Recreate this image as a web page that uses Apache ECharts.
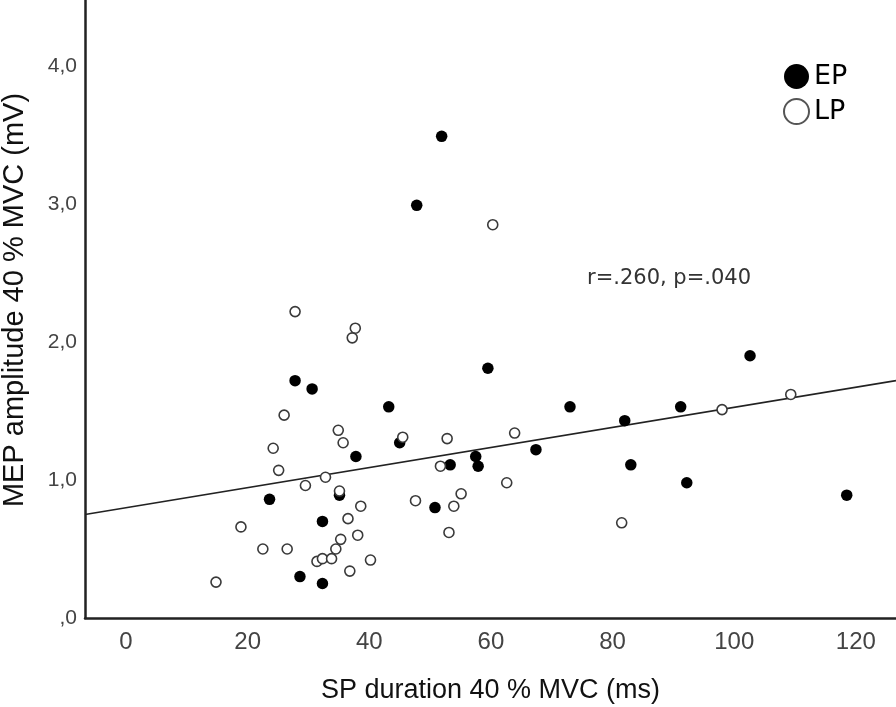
<!DOCTYPE html>
<html>
<head>
<meta charset="utf-8">
<script src="https://cdn.jsdelivr.net/npm/echarts@6/dist/echarts.min.js"></script>
<style>html,body{margin:0;padding:0;background:#fff}#c{width:896px;height:707px}</style>
</head>
<body>
<div id="c"></div>
<script>
// EP (filled) points: [SP duration (ms), MEP amplitude (mV)]
var epPoints = [
  [51.9,3.49],[47.8,2.99],[59.5,1.81],[102.6,1.90],[27.8,1.72],[30.6,1.66],
  [43.2,1.53],[73.0,1.53],[91.2,1.53],[82.0,1.43],[37.8,1.17],[45.0,1.27],
  [57.5,1.17],[57.9,1.10],[53.3,1.11],[67.4,1.22],[83.0,1.11],[92.2,0.98],
  [118.5,0.89],[23.6,0.86],[35.1,0.89],[50.8,0.80],[32.3,0.70],[28.6,0.30],
  [32.3,0.25]
];
// LP (open) points
var lpPoints = [
  [60.3,2.85],[27.8,2.22],[37.7,2.10],[37.2,2.03],[26.0,1.47],[34.9,1.36],
  [35.7,1.27],[45.5,1.31],[52.8,1.30],[63.9,1.34],[24.2,1.23],[25.1,1.07],
  [51.7,1.10],[62.6,0.98],[32.8,1.02],[29.5,0.96],[35.1,0.92],[55.1,0.90],
  [47.6,0.85],[53.9,0.81],[38.6,0.81],[36.5,0.72],[38.1,0.60],[53.1,0.62],
  [35.3,0.57],[34.5,0.50],[31.4,0.41],[32.3,0.43],[33.8,0.43],[40.2,0.42],
  [36.8,0.34],[18.9,0.66],[22.5,0.50],[26.5,0.50],[14.8,0.26],[98.0,1.51],
  [109.3,1.62],[81.5,0.69]
];
// fit line endpoints
var fitLine = [[-6.74,0.75],[126.6,1.72]];
var xTicks = [0,20,40,60,80,100,120];
var yTicks = [0,1,2,3,4];
var statText = 'r=.260, p=.040';

var chart = echarts.init(document.getElementById('c'), null, {renderer:'canvas'});
chart.setOption({
  animation: false,
  backgroundColor: '#fff',
  grid: {left: 85, right: 0, top: 0, bottom: 89, containLabel: false, outerBoundsMode: 'none'},
  legend: {
    orient: 'vertical', left: 783, top: 63, padding: 0,
    itemWidth: 25, itemHeight: 25, itemGap: 8,
    textStyle: {fontSize: 27, color: '#000', fontFamily: 'DejaVu Sans, sans-serif'},
    data: [
      {name: 'EP', icon: 'circle', itemStyle: {color: '#000', borderWidth: 0}},
      {name: 'LP', icon: 'circle', itemStyle: {color: '#fff', borderColor: '#555', borderWidth: 2}}
    ]
  },
  xAxis: {
    type: 'value', min: -6.74, max: 126.6,
    name: 'SP duration 40 % MVC (ms)', nameLocation: 'middle', nameGap: 59,
    nameTextStyle: {fontSize: 27, color: '#111', fontFamily: 'Liberation Sans, Arial, sans-serif'},
    axisLine: {show: true, onZero: false, lineStyle: {color: '#222', width: 2.5}},
    axisTick: {show: false},
    splitLine: {show: false},
    axisLabel: {customValues: xTicks, fontSize: 24, color: '#444', margin: 12,
      fontFamily: 'Liberation Sans Narrow, Liberation Sans, Arial, sans-serif'}
  },
  yAxis: {
    type: 'value', min: 0, max: 4.478,
    name: 'MEP amplitude 40 % MVC (mV)', nameLocation: 'middle', nameGap: 56,
    nameTextStyle: {fontSize: 29, color: '#111', fontFamily: 'Liberation Sans, Arial, sans-serif',
      padding: [0, 0, 0, 18]},
    axisLine: {show: true, onZero: false, lineStyle: {color: '#222', width: 2.5}},
    axisTick: {show: false},
    splitLine: {show: false},
    axisLabel: {customValues: yTicks, fontSize: 21, color: '#444', margin: 8,
      fontFamily: 'Liberation Sans, Arial, sans-serif',
      formatter: function(v){ return v === 0 ? ',0' : (v.toFixed(1).replace('.', ',')); }}
  },
  series: [
    {name: 'fit', type: 'line', data: fitLine, symbol: 'none', silent: true,
     lineStyle: {color: '#222', width: 1.6}, z: 1},
    {name: 'EP', type: 'scatter', data: epPoints, symbol: 'circle', symbolSize: 11.5,
     itemStyle: {color: '#000', opacity: 1}, z: 2},
    {name: 'LP', type: 'scatter', data: lpPoints, symbol: 'circle', symbolSize: 10,
     itemStyle: {color: '#fff', borderColor: '#3a3a3a', borderWidth: 1.6, opacity: 1}, z: 3}
  ],
  graphic: [
    {type: 'text', left: 587, top: 268,
     style: {text: statText, fontSize: 21, fill: '#333', fontFamily: 'DejaVu Sans, sans-serif'}}
  ]
});
</script>
</body>
</html>
